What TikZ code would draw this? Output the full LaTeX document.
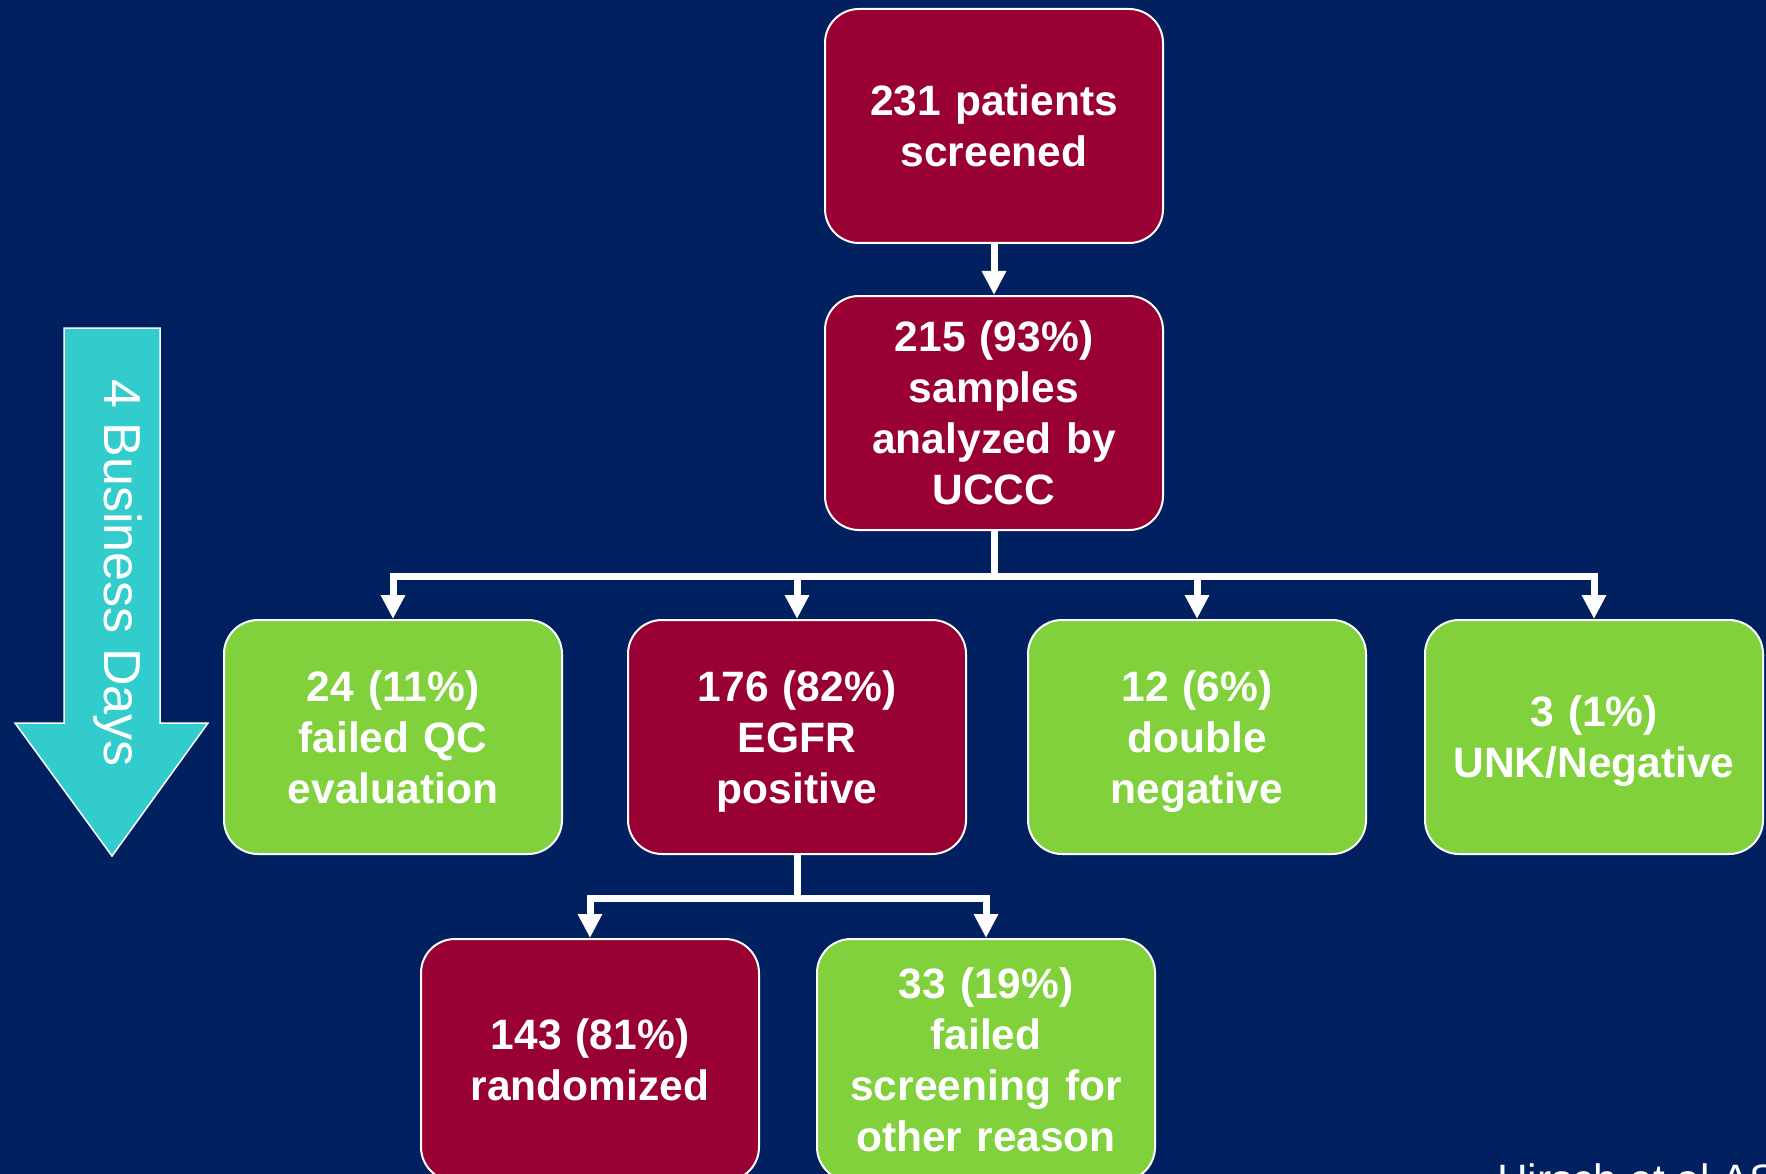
\documentclass[tikz,border=0pt]{standalone}
\usepackage{fontspec}
\setmainfont{Liberation Sans}
\usetikzlibrary{arrows.meta}
\definecolor{bgnavy}{RGB}{0,32,96}
\definecolor{crimson}{RGB}{153,0,51}
\definecolor{lgreen}{RGB}{128,209,60}
\definecolor{tealc}{RGB}{51,204,204}
\tikzset{
  box/.style={draw=white, line width=2pt, rounded corners=34pt, minimum width=338pt,
    minimum height=234pt, text width=330pt, align=center, text=white,
    font=\bfseries\fontsize{42.5}{51}\selectfont, inner sep=0pt},
  redbox/.style={box, fill=crimson},
  greenbox/.style={box, fill=lgreen},
  conn/.style={draw=white, line width=7pt},
  arr/.style={conn, -{Triangle[width=23pt,length=24pt]}},
}
\begin{document}
\begin{tikzpicture}[x=1pt,y=-1pt]
\useasboundingbox (0,0) rectangle (1766,1174);
\clip (0,0) rectangle (1766,1174);
\fill[bgnavy] (0,0) rectangle (1766,1174);

% big teal arrow
\draw[fill=tealc, draw=white, line width=1.5pt]
  (64,328) -- (160,328) -- (160,723) -- (208,723) -- (112,856) -- (15,723) -- (64,723) -- cycle;
\node[rotate=-90, text=white, font=\fontsize{52}{60}\selectfont] (days) at (118,573) {4 Business Days};

% boxes
\node[redbox] (n1) at (994,126) {231 patients\\screened};
\node[redbox] (n2) at (994,413) {215 (93\%)\\samples\\analyzed by\\UCCC};
\node[greenbox] (b1) at (393,737) {24 (11\%)\\failed QC\\evaluation};
\node[redbox] (b2) at (797,737) {176 (82\%)\\EGFR\\\smash{positive}};
\node[greenbox] (b3) at (1197,737) {12 (6\%)\\double\\\smash{negative}};
\node[greenbox] (b4) at (1594,737) {3 (1\%)\\\smash{UNK/Negative}};
\node[redbox, minimum height=242pt] (c1) at (590,1060) {143 (81\%)\\randomized};
\node[greenbox, minimum height=242pt] (c2) at (986,1060) {33 (19\%)\\failed\\screening for\\other reason};

% connectors
\draw[arr] (n1.south) -- (n2.north);
\coordinate (j1) at (994,576);
\coordinate (j2) at (797,898);
\draw[conn] (n2.south) -- (j1);
\draw[arr] (j1) -| (b1.north);
\draw[arr] (j1) -| (b2.north);
\draw[arr] (j1) -| (b3.north);
\draw[arr] (j1) -| (b4.north);
\draw[conn] (b2.south) -- (j2);
\draw[arr] (j2) -| (c1.north);
\draw[arr] (j2) -| (c2.north);

% footnote (cut off at the bottom edge, as in the reference)
\node[anchor=base west, text=white, inner sep=0pt, font=\fontsize{42.5}{51}\selectfont] (ref) at (1497,1194) {Hirsch et al ASC};
\end{tikzpicture}
\end{document}
